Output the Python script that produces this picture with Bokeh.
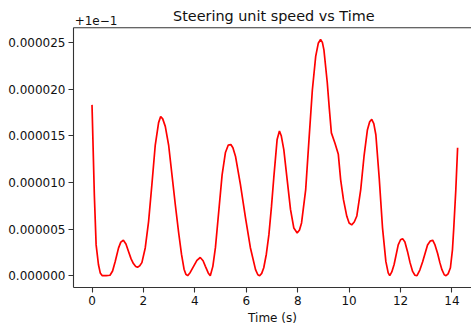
from bokeh.plotting import figure
from bokeh.models import Range1d, FixedTicker, Span, Label
from bokeh.embed import file_html
from bokeh.resources import INLINE

# Time (s)
time_s = [0.0, 0.09, 0.16, 0.25, 0.32, 0.40, 0.55, 0.70, 0.80, 0.90, 1.03, 1.12, 1.22, 1.32, 1.42,
          1.52, 1.61, 1.70, 1.77, 1.85, 1.94, 2.07, 2.20, 2.33, 2.46, 2.59, 2.67, 2.75, 2.85, 2.98,
          3.11, 3.24, 3.37, 3.48, 3.58, 3.65, 3.72, 3.82, 3.95, 4.08, 4.21, 4.32, 4.41, 4.52, 4.60,
          4.70, 4.80, 4.93, 5.06, 5.19, 5.30, 5.40, 5.48, 5.58, 5.77, 5.97, 6.16, 6.36, 6.45, 6.52,
          6.60, 6.68, 6.78, 6.88, 6.98, 7.07, 7.20, 7.29, 7.36, 7.46, 7.59, 7.72, 7.85, 7.98, 8.07,
          8.15, 8.31, 8.44, 8.57, 8.70, 8.80, 8.89, 8.96, 9.02, 9.15, 9.23, 9.31, 9.45, 9.58, 9.67,
          9.78, 9.91, 10.0, 10.1, 10.2, 10.3, 10.45, 10.58, 10.71, 10.80, 10.88, 10.96, 11.04, 11.17,
          11.30, 11.43, 11.52, 11.58, 11.66, 11.75, 11.91, 12.00, 12.08, 12.17, 12.27, 12.37, 12.47,
          12.56, 12.64, 12.75, 12.86, 13.05, 13.15, 13.25, 13.34, 13.44, 13.53, 13.61, 13.70, 13.77,
          13.85, 13.94, 14.02, 14.07, 14.15, 14.22]

# Speed above the 1e-1 offset, in units of 1e-6
speed_offset_e6 = [18.3, 8.7, 3.3, 1.2, 0.3, 0.0, 0.0, 0.05, 0.5, 1.5, 2.95, 3.6, 3.8, 3.4, 2.6,
                   1.8, 1.3, 0.98, 0.9, 1.05, 1.4, 2.97, 5.8, 9.8, 14.0, 16.4, 17.05, 16.8, 16.0, 14.0,
                   10.8, 7.6, 4.6, 2.3, 0.7, 0.15, 0.0, 0.35, 1.0, 1.65, 1.95, 1.6, 1.0, 0.3, 0.0,
                   1.0, 3.0, 6.9, 10.8, 13.2, 14.0, 14.05, 13.7, 12.8, 9.8, 6.2, 3.0, 0.65, 0.1, 0.0,
                   0.25, 0.85, 2.3, 4.4, 7.4, 10.5, 14.6, 15.5, 15.0, 13.5, 10.3, 7.1, 5.1, 4.58, 4.9,
                   5.65, 9.2, 14.6, 19.9, 23.5, 24.9, 25.3, 25.0, 24.2, 20.7, 17.9, 15.3, 14.2, 13.0, 10.3,
                   8.15, 6.36, 5.65, 5.45, 5.75, 6.4, 9.2, 12.8, 15.6, 16.5, 16.75, 16.3, 15.1, 10.5,
                   5.1, 1.5, 0.3, 0.0, 0.4, 1.2, 3.3, 3.85, 3.97, 3.6, 2.6, 1.4, 0.46,
                   0.05, 0.0, 0.6, 1.5, 3.3, 3.7, 3.8, 3.3, 2.4, 1.4, 0.64, 0.1, 0.0,
                   0.2, 0.85, 2.8, 5.1, 9.2, 13.7]

x_ticks = [0, 2, 4, 6, 8, 10, 12, 14]
y_ticks = [0, 5, 10, 15, 20, 25]
y_tick_labels = ["0.000000", "0.000005", "0.000010", "0.000015", "0.000020", "0.000025"]
title_text = "Steering unit speed vs Time"
offset_text = "+1e\u22121"
x_label = "Time (s)"

FONT = "DejaVu Sans"
SPINE = "#333333"

y_start = -1.265
y_end = 26.57          # top of the axes box
canvas_top = 29.485    # frame extends to the top of the page so texts above the box are drawn

p = figure(width=471, height=327, output_backend="svg", toolbar_location=None,
           x_range=Range1d(-0.72, 14.76), y_range=Range1d(y_start, canvas_top),
           min_border_left=73, min_border_right=0, min_border_top=0, min_border_bottom=39,
           background_fill_color="white", border_fill_color="white")
p.outline_line_color = None
p.grid.visible = False

p.line(time_s, speed_offset_e6, line_color="#ff0000", line_width=1.7)

for ax in (p.xaxis[0], p.yaxis[0]):
    ax.axis_line_color = SPINE
    ax.axis_line_width = 1.1
    ax.major_tick_line_color = SPINE
    ax.major_tick_line_width = 1.1
    ax.major_tick_in = 0
    ax.major_tick_out = 5
    ax.minor_tick_line_color = None
    ax.major_label_text_font = FONT
    ax.major_label_text_font_size = "12px"
    ax.major_label_text_color = "#111111"

p.xaxis.ticker = FixedTicker(ticks=x_ticks)
p.xaxis.major_label_standoff = 3
p.xaxis.axis_label = x_label
p.xaxis.axis_label_text_font = FONT
p.xaxis.axis_label_text_font_size = "12px"
p.xaxis.axis_label_text_font_style = "normal"
p.xaxis.axis_label_text_color = "#111111"
p.xaxis.axis_label_standoff = 3

p.yaxis.ticker = FixedTicker(ticks=y_ticks)
p.yaxis.major_label_overrides = {t: s for t, s in zip(y_ticks, y_tick_labels)}
p.yaxis.major_label_standoff = 3
p.yaxis.bounds = (y_start, y_end)

p.add_layout(Span(location=y_end, dimension="width", line_color=SPINE, line_width=1.1))

p.add_layout(Label(x=7.07, y=27.83, text=title_text, text_align="center",
                   text_baseline="alphabetic", text_font=FONT, text_font_size="14.4px",
                   text_color="#111111"))
p.add_layout(Label(x=-0.674, y=27.36, text=offset_text, text_align="left",
                   text_baseline="alphabetic", text_font=FONT, text_font_size="12px",
                   text_color="#111111"))

open("out.html", "w").write(file_html(p, INLINE))
